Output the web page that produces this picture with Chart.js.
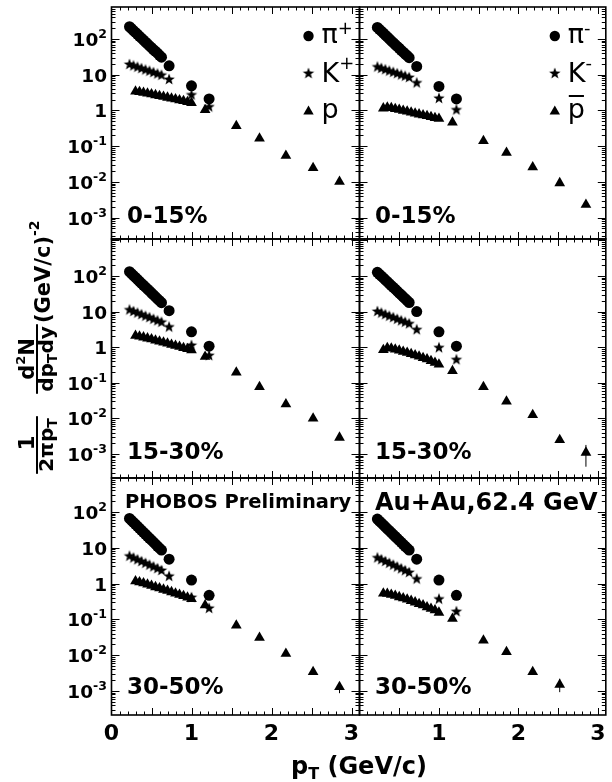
<!DOCTYPE html>
<html>
<head>
<meta charset="utf-8">
<title>PHOBOS identified particle spectra, Au+Au 62.4 GeV</title>
<script src="https://cdn.jsdelivr.net/npm/chart.js@4.4.0/dist/chart.umd.min.js"></script>
<style>
  html, body { margin: 0; padding: 0; background: #fff; }
  #wrap { position: relative; width: 612px; height: 782px; overflow: hidden; background: #fff; }
  #wrap canvas { position: absolute; left: 0; top: 0; }
</style>
</head>
<body>
<div id="wrap">
  <canvas id="pan0" width="612" height="782"></canvas>
  <canvas id="pan1" width="612" height="782"></canvas>
  <canvas id="pan2" width="612" height="782"></canvas>
  <canvas id="pan3" width="612" height="782"></canvas>
  <canvas id="pan4" width="612" height="782"></canvas>
  <canvas id="pan5" width="612" height="782"></canvas>
</div>
<script>
// --- pT bins (GeV/c) ---
const ptPi = [0.225, 0.25, 0.275, 0.3, 0.325, 0.35, 0.375, 0.4, 0.425, 0.45, 0.475, 0.5, 0.525, 0.55, 0.575, 0.6, 0.625, 0.72, 1.0, 1.22];
const ptK = [0.225, 0.275, 0.325, 0.375, 0.425, 0.475, 0.525, 0.575, 0.625, 0.72, 1.0, 1.22];
const ptP = [0.3, 0.35, 0.4, 0.45, 0.5, 0.55, 0.6, 0.65, 0.7, 0.75, 0.8, 0.85, 0.9, 0.95, 1.0, 1.17, 1.56, 1.85, 2.18, 2.52, 2.85];

// --- 0-15% ---
const piPlus_0_15 = [220, 195, 172, 152, 135, 119, 105, 93, 82, 73, 64, 57, 50, 45, 40, 35, 31, 17.8, 4.9, 2.1];
const kPlus_0_15 = [20, 18.3, 16.8, 15.4, 14.1, 13.0, 11.9, 10.9, 10, 7.6, 2.8, 1.3];
const proton_0_15 = [3.4, 3.3, 3.15, 3.0, 2.85, 2.7, 2.56, 2.42, 2.3, 2.18, 2.06, 1.95, 1.84, 1.73, 1.62, 1.03, 0.37, 0.166, 0.054, 0.0245, 0.0102];
const piMinus_0_15 = [211, 187, 165, 146, 129, 114, 101, 89, 79, 70, 62, 55, 48, 43, 38, 34, 30, 17, 4.7, 2.1];
const kMinus_0_15 = [17, 15.6, 14.3, 13.1, 12.1, 11.1, 10.2, 9.4, 8.6, 6.1, 2.25, 1.07];
const pbar_0_15 = [1.15, 1.22, 1.17, 1.11, 1.05, 0.99, 0.94, 0.88, 0.83, 0.78, 0.74, 0.70, 0.66, 0.62, 0.59, 0.46, 0.14, 0.066, 0.026, 0.0093, 0.0023];

// --- 15-30% ---
const piPlus_15_30 = [132, 116, 103, 91, 80, 70.5, 62, 55, 48.5, 43, 38, 33.3, 29.4, 26, 22.9, 20.2, 17.8, 10.6, 2.7, 1.07];
const kPlus_15_30 = [11.5, 10.4, 9.4, 8.5, 7.7, 7.0, 6.3, 5.7, 5.2, 3.8, 1.16, 0.6];
const proton_15_30 = [2.1, 2.02, 1.9, 1.78, 1.67, 1.56, 1.45, 1.36, 1.27, 1.18, 1.1, 1.03, 0.96, 0.89, 0.83, 0.54, 0.195, 0.077, 0.025, 0.01, 0.0029];
const piMinus_15_30 = [127, 112, 99.5, 88, 78, 69, 61, 54, 48, 42.5, 37.5, 33, 29.5, 26, 23, 20.4, 18, 10, 2.7, 1.07];
const kMinus_15_30 = [10.4, 9.4, 8.5, 7.7, 7.0, 6.3, 5.7, 5.2, 4.7, 3.2, 1.0, 0.46];
const pbar_15_30 = [0.84, 0.95, 0.92, 0.87, 0.81, 0.75, 0.70, 0.65, 0.60, 0.55, 0.50, 0.46, 0.41, 0.37, 0.33, 0.215, 0.077, 0.03, 0.0125, 0.0025, 0.0011];

// --- 30-50% ---
const piPlus_30_50 = [66, 58, 51, 45, 39.6, 34.9, 30.7, 27, 23.8, 20.9, 18.4, 16.2, 14.3, 12.6, 11.0, 9.7, 8.6, 4.8, 1.25, 0.47];
const kPlus_30_50 = [6.0, 5.35, 4.77, 4.26, 3.8, 3.39, 3.02, 2.7, 2.4, 1.65, 0.42, 0.21];
const proton_30_50 = [1.17, 1.1, 1.02, 0.94, 0.87, 0.80, 0.74, 0.68, 0.63, 0.58, 0.53, 0.49, 0.45, 0.41, 0.37, 0.25, 0.068, 0.031, 0.011, 0.0034, 0.0013];
const piMinus_30_50 = [63, 55.6, 49.1, 43.4, 38.3, 33.8, 29.9, 26.4, 23.3, 20.6, 18.2, 16.0, 14.2, 12.5, 11.0, 9.7, 8.6, 4.8, 1.25, 0.47];
const kMinus_30_50 = [5.4, 4.8, 4.27, 3.8, 3.38, 3.0, 2.67, 2.37, 2.1, 1.38, 0.38, 0.17];
const pbar_30_50 = [0.53, 0.52, 0.49, 0.46, 0.42, 0.39, 0.36, 0.33, 0.30, 0.27, 0.25, 0.22, 0.20, 0.18, 0.155, 0.105, 0.026, 0.0123, 0.0034, 0.0015];

// error bars that stick out of the marker: [pT, low, high]
const pbarErr_15_30 = [2.85, 0.00044, 0.0018];
const protonErr_30_50 = [2.85, 0.00087, 0.00166];
const pbarErr_30_50 = [2.52, 0.00093, 0.0022];

// axis ranges (one per row) and tick labels
const xMin = 0, xMax = 3.1;
const yMin = [2.53e-4, 2.12e-4, 2.14e-4];
const yMax = [785, 1094, 885];
const xTickLabels = [0, 1, 2, 3];
const yTickExps = [-3, -2, -1, 0, 1, 2];
const centralities = ['0-15%', '15-30%', '30-50%'];

// --- layout (pixels) ---
const W = 612, H = 782;
const colLeft = [111.5, 359.5], colRight = [359.5, 607.5];
const rowTop = [7, 239, 478], rowBottom = [239, 478, 715];
const centBase = [223, 459, 694];

const FONT = '"DejaVu Sans", "Liberation Sans", Arial, sans-serif';
const bold = s => 'bold ' + s + 'px ' + FONT;
const reg = s => s + 'px ' + FONT;

// filled five-point star marker
const STAR = (() => {
    const c = document.createElement('canvas');
    c.width = 14; c.height = 14;
    const g = c.getContext('2d');
    g.fillStyle = '#000';
    g.beginPath();
    for (let i = 0; i < 10; i++) {
        const r = i % 2 === 0 ? 6 : 2.5;
        const a = -Math.PI / 2 + i * Math.PI / 5;
        const px = 7 + r * Math.cos(a), py = 7.6 + r * Math.sin(a);
        if (i === 0) g.moveTo(px, py); else g.lineTo(px, py);
    }
    g.closePath();
    g.fill();
    return c;
})();

const panels = [
    { id: 'pan0', row: 0, col: 0, pi: piPlus_0_15, k: kPlus_0_15, p: proton_0_15, legend: '+' },
    { id: 'pan1', row: 0, col: 1, pi: piMinus_0_15, k: kMinus_0_15, p: pbar_0_15, legend: '-' },
    { id: 'pan2', row: 1, col: 0, pi: piPlus_15_30, k: kPlus_15_30, p: proton_15_30 },
    { id: 'pan3', row: 1, col: 1, pi: piMinus_15_30, k: kMinus_15_30, p: pbar_15_30, err: pbarErr_15_30 },
    { id: 'pan4', row: 2, col: 0, pi: piPlus_30_50, k: kPlus_30_50, p: proton_30_50, err: protonErr_30_50, note: 'PHOBOS Preliminary' },
    { id: 'pan5', row: 2, col: 1, pi: piMinus_30_50, k: kMinus_30_50, p: pbar_30_50, err: pbarErr_30_50, note: 'Au+Au,62.4 GeV' }
];

function points(xs, ys) {
    return ys.map((v, i) => ({ x: xs[i], y: v }));
}

// draws a row of text runs (sub/superscripts), optionally rotated by -90 deg
function drawRuns(ctx, runs, sx, sy, opts) {
    opts = opts || {};
    ctx.save();
    ctx.translate(sx, sy);
    if (opts.rotate) ctx.rotate(-Math.PI / 2);
    ctx.fillStyle = '#000';
    ctx.textBaseline = 'alphabetic';
    ctx.textAlign = 'left';
    let total = 0;
    runs.forEach(r => { ctx.font = r.f; r.w = ctx.measureText(r.t).width; total += r.w; });
    let u = opts.center ? -total / 2 : (opts.right ? -total : 0);
    runs.forEach(r => { ctx.font = r.f; ctx.fillText(r.t, u, r.dy || 0); u += r.w; });
    ctx.restore();
    return total;
}

function makePlugin(pan) {
    return {
        id: 'rootFrame',
        afterDatasetsDraw(chart) {
            if (!pan.err) return;
            const { ctx, scales: { x, y } } = chart;
            const px = x.getPixelForValue(pan.err[0]);
            ctx.save();
            ctx.strokeStyle = '#000';
            ctx.lineWidth = 1;
            ctx.beginPath();
            ctx.moveTo(px, y.getPixelForValue(pan.err[1]));
            ctx.lineTo(px, y.getPixelForValue(pan.err[2]));
            ctx.stroke();
            ctx.restore();
        },
        afterDraw(chart) {
            const { ctx, chartArea: a, scales: { x, y } } = chart;
            ctx.save();
            ctx.strokeStyle = '#000';
            ctx.fillStyle = '#000';

            // frame
            ctx.lineWidth = 1.6;
            ctx.strokeRect(a.left, a.top, a.right - a.left, a.bottom - a.top);

            // ticks, pointing inwards on all four sides
            ctx.lineWidth = 1;
            ctx.beginPath();
            for (let i = 0; i <= 31; i++) {
                const v = i / 10;
                const px = Math.round(x.getPixelForValue(v)) + 0.5;
                if (px <= a.left + 1 || px >= a.right - 1) continue;
                const len = i % 5 === 0 ? 7 : 3.5;
                ctx.moveTo(px, a.bottom); ctx.lineTo(px, a.bottom - len);
                ctx.moveTo(px, a.top); ctx.lineTo(px, a.top + len);
            }
            for (let d = -5; d <= 3; d++) {
                for (let m = 1; m <= 9; m++) {
                    const v = m * Math.pow(10, d);
                    if (v < y.min || v > y.max) continue;
                    const py = Math.round(y.getPixelForValue(v)) + 0.5;
                    const len = m === 1 ? 8 : 4;
                    ctx.moveTo(a.left, py); ctx.lineTo(a.left + len, py);
                    ctx.moveTo(a.right, py); ctx.lineTo(a.right - len, py);
                }
            }
            ctx.stroke();

            // y tick labels on the left column
            if (pan.col === 0) {
                yTickExps.forEach(e => {
                    const py = y.getPixelForValue(Math.pow(10, e));
                    const runs = [{ t: e === 0 ? '1' : '10', f: bold(18.5), dy: 7 }];
                    if (e !== 0 && e !== 1) runs.push({ t: String(e), f: bold(12.5), dy: -1 });
                    drawRuns(ctx, runs, a.left - 4.5, py, { right: true });
                });
            }

            // x tick labels on the bottom row
            if (pan.row === 2) {
                ctx.font = bold(22);
                ctx.textAlign = 'center';
                ctx.textBaseline = 'alphabetic';
                xTickLabels.forEach(v => {
                    if (pan.col === 1 && v === 0) return;
                    ctx.fillText(String(v), x.getPixelForValue(v), a.bottom + 25);
                });
            }

            // centrality label
            ctx.font = bold(23);
            ctx.textAlign = 'left';
            ctx.textBaseline = 'alphabetic';
            ctx.fillText(centralities[pan.row], a.left + 15.5, centBase[pan.row]);

            if (pan.note) {
                const big = pan.col === 1;
                ctx.font = bold(big ? 24 : 19.5);
                ctx.fillText(pan.note, a.left + (big ? 15.5 : 13.5), a.top + (big ? 32 : 30));
            }

            // legend in the top row
            if (pan.legend) {
                const mx = a.right - 51, tx = a.right - 38;
                ctx.beginPath();
                ctx.arc(mx, a.top + 29, 5.2, 0, Math.PI * 2);
                ctx.fill();
                ctx.drawImage(STAR, mx - 7, a.top + 66 - 7);
                ctx.beginPath();
                ctx.moveTo(mx, a.top + 104.5 - 6);
                ctx.lineTo(mx + 5.2, a.top + 104.5 + 3);
                ctx.lineTo(mx - 5.2, a.top + 104.5 + 3);
                ctx.closePath();
                ctx.fill();

                drawRuns(ctx, [{ t: '\u03c0', f: reg(27) }, { t: pan.legend, f: reg(18), dy: -9 }], tx, a.top + 36);
                drawRuns(ctx, [{ t: 'K', f: reg(27) }, { t: pan.legend, f: reg(18), dy: -13 }], tx, a.top + 75);
                const pw = drawRuns(ctx, [{ t: 'p', f: reg(27) }], tx, a.top + 111);
                if (pan.legend === '-') {
                    ctx.fillRect(tx + 1, a.top + 88, pw - 2, 2);
                }
            }

            // axis titles, drawn once from the bottom-left panel
            if (pan.row === 2 && pan.col === 0) {
                drawRuns(ctx, [{ t: 'p', f: bold(24) }, { t: 'T', f: bold(16), dy: 5 }, { t: ' (GeV/c)', f: bold(24) }], 291, 774);

                // 1/(2 pi pT) d2N/(dpT dy) (GeV/c)^-2, rotated
                const rot = { rotate: true, center: true };
                drawRuns(ctx, [{ t: '1', f: bold(21) }], 34, 443, rot);
                const w1 = drawRuns(ctx, [{ t: '2\u03c0p', f: bold(20) }, { t: 'T', f: bold(14), dy: 4 }], 53, 445, rot);
                ctx.fillRect(36, 445 - w1 / 2 - 2, 2, w1 + 4);
                drawRuns(ctx, [{ t: 'd', f: bold(21) }, { t: '2', f: bold(13), dy: -9 }, { t: 'N', f: bold(21) }], 34, 359, rot);
                const w2 = drawRuns(ctx, [{ t: 'dp', f: bold(20) }, { t: 'T', f: bold(14), dy: 4 }, { t: 'dy', f: bold(20) }], 53, 359, rot);
                ctx.fillRect(36, 359 - w2 / 2 - 2, 2, w2 + 4);
                drawRuns(ctx, [{ t: '(GeV/c)', f: bold(21) }, { t: '-2', f: bold(14), dy: -11 }], 50, 323, { rotate: true });
            }
            ctx.restore();
        }
    };
}

panels.forEach(pan => {
    const L = colLeft[pan.col], R = colRight[pan.col];
    const T = rowTop[pan.row], B = rowBottom[pan.row];
    const marker = { backgroundColor: '#000', borderColor: '#000', borderWidth: 0 };
    new Chart(document.getElementById(pan.id), {
        type: 'scatter',
        data: {
            datasets: [
                Object.assign({ label: 'pi', data: points(ptPi, pan.pi), pointStyle: 'circle', pointRadius: 5.5 }, marker),
                Object.assign({ label: 'K', data: points(ptK, pan.k), pointStyle: STAR, pointRadius: 5 }, marker),
                Object.assign({ label: 'p', data: points(ptP, pan.p), pointStyle: 'triangle', pointRadius: 6.2 }, marker)
            ]
        },
        options: {
            responsive: false,
            animation: false,
            devicePixelRatio: 1,
            events: [],
            layout: { padding: { left: L, top: T, right: W - R, bottom: H - B } },
            plugins: { legend: { display: false }, tooltip: { enabled: false } },
            scales: {
                x: { type: 'linear', min: xMin, max: xMax, display: false },
                y: { type: 'logarithmic', min: yMin[pan.row], max: yMax[pan.row], display: false }
            }
        },
        plugins: [makePlugin(pan)]
    });
});
</script>
</body>
</html>
